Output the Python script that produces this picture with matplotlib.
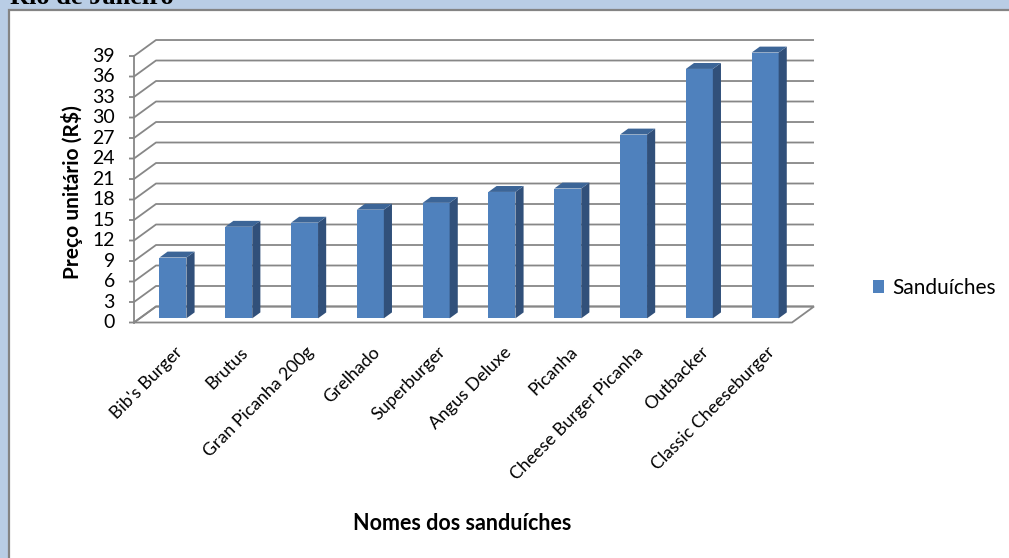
import matplotlib
matplotlib.use('Agg')
from matplotlib import pyplot as plt
from matplotlib.patches import Polygon, Rectangle, Patch

# data
sanduiches = ["Bib's Burger", "Brutus", "Gran Picanha 200g", "Grelhado", "Superburger",
              "Angus Deluxe", "Picanha", "Cheese Burger Picanha", "Outbacker", "Classic Cheeseburger"]
precos = [8.9, 13.4, 14.0, 15.9, 16.9, 18.5, 19.0, 26.9, 36.5, 38.9]
yticks = list(range(0, 40, 3))

W, H = 1009, 558
PX_X = 65.8     # pixels per category
PX_Y = 6.833    # pixels per R$
DX = 22 / PX_X  # depth offset of the back wall, data units
DY = 16 / PX_Y
D0, D1 = 0.26, 0.63  # bar front / back as depth fraction

front = '#4f81bd'
side = '#31507a'
top = '#3c6597'
grid = '#878787'

plt.rcParams['font.family'] = ['Lato', 'DejaVu Sans']

fig = plt.figure(figsize=(W / 100, H / 100), dpi=100)
fig.patch.set_facecolor('#b9cde5')

def fx(px):
    return px / W

def fy(py):
    return 1 - py / H

# white chart area, cut by the right and bottom edges
fig.patches.append(Rectangle((fx(9), -0.05), 1.1, fy(10) + 0.05, transform=fig.transFigure,
                             facecolor='white', edgecolor='#848484', linewidth=1.6, zorder=-10))
fig.text(fx(10), fy(4), 'Rio de Janeiro', family='Liberation Serif', fontweight='bold',
         fontsize=19, va='baseline', ha='left')

ax = fig.add_axes([fx(134), fy(322.5), 682 / W, 282.5 / H])
ax.set_xlim(0, 682 / PX_X)
ax.set_ylim(0, 282.5 / PX_Y)
ax.axis('off')

n = len(sanduiches)

# walls, gridlines and floor
for v in yticks:
    ax.plot([-5 / PX_X, 0, DX, n + DX], [v, v, v + DY, v + DY], color=grid, lw=1.3,
            clip_on=False, solid_capstyle='butt', zorder=1)
ax.plot([0, 0], [0, yticks[-1]], color=grid, lw=1.3, clip_on=False, zorder=1)
ax.add_patch(Polygon([(0, 0), (n, 0), (n + DX, DY), (DX, DY)], closed=True, fill=False,
                     edgecolor=grid, lw=1.3, clip_on=False, zorder=1))

for v in yticks:
    ax.text(-19 / PX_X, v, str(v), ha='right', va='center', fontsize=14, clip_on=False)

# 3d bars
x0 = [i + 0.3 + D0 * DX for i in range(n)]
bw = 0.41
ddx = (D1 - D0) * DX
ddy = (D1 - D0) * DY
ax.bar(x0, precos, width=bw, bottom=D0 * DY, align='edge', color=front, zorder=3,
       label='Sanduíches')
for xl, v in zip(x0, precos):
    yb = D0 * DY
    yt = yb + v
    xr = xl + bw
    ax.add_patch(Polygon([(xr, yb), (xr + ddx, yb + ddy), (xr + ddx, yt + ddy), (xr, yt)],
                         closed=True, facecolor=side, edgecolor='none', zorder=3))
    ax.add_patch(Polygon([(xl, yt), (xr, yt), (xr + ddx, yt + ddy), (xl + ddx, yt + ddy)],
                         closed=True, facecolor=top, edgecolor='none', zorder=3))

# category labels
for i, name in enumerate(sanduiches):
    ax.text(i + 0.5 + 13 / PX_X, -27 / PX_Y, name, rotation=45, rotation_mode='anchor',
            ha='right', va='center', fontsize=12.8, clip_on=False)

fig.text(fx(72), fy(192), 'Preço unitário (R$)', rotation=90, ha='center', va='center',
         fontsize=15, fontweight='bold')
fig.text(fx(462), fy(523), 'Nomes dos sanduíches', ha='center', va='center',
         fontsize=15.5, fontweight='bold')

fig.legend(handles=[Patch(facecolor=front, label='Sanduíches')], loc='center left',
           bbox_to_anchor=(fx(854), fy(288)), frameon=False, fontsize=15,
           handlelength=0.55, handleheight=0.55, handletextpad=0.4)

fig.savefig('out.png', dpi=100, facecolor=fig.get_facecolor())
